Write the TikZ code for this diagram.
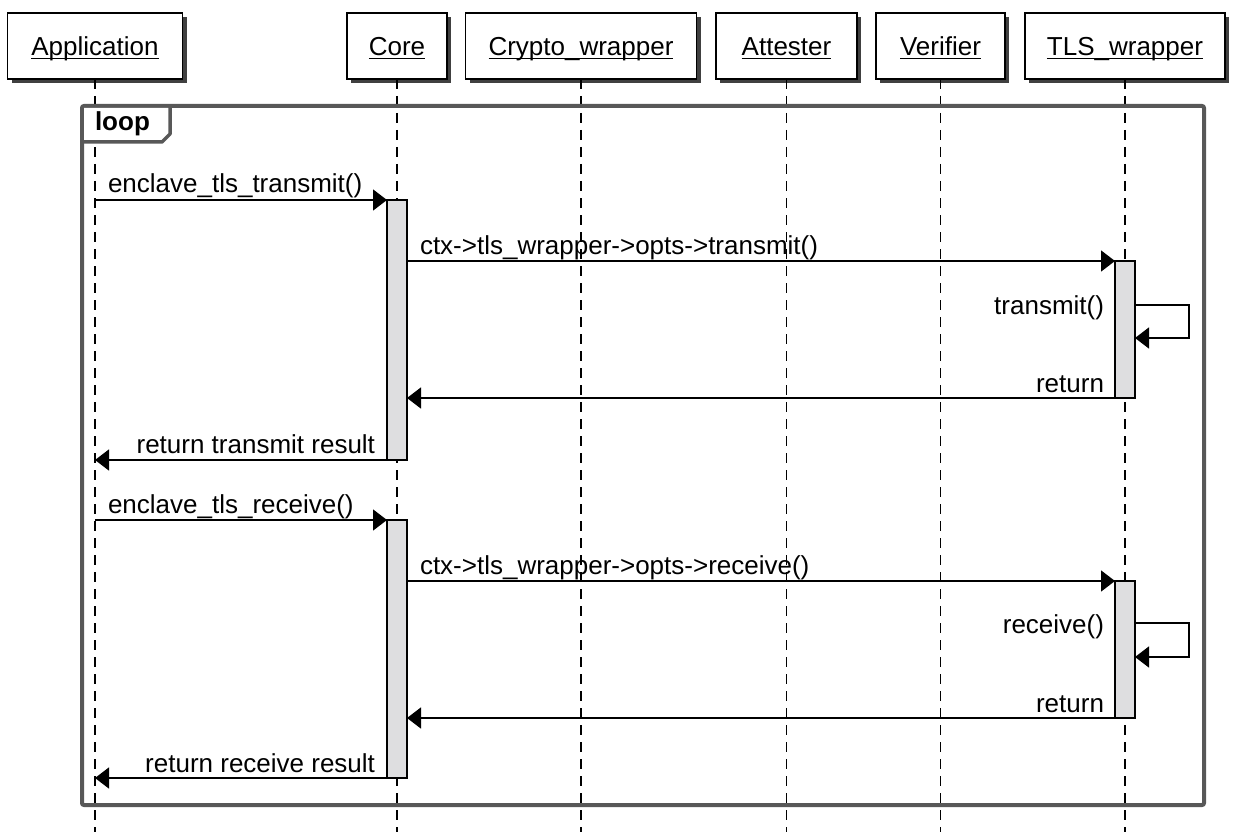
\documentclass[tikz,border=0pt]{standalone}
\usepackage{fontspec}
\setmainfont{Liberation Sans}
\usetikzlibrary{arrows.meta,shadows}
\definecolor{framegray}{RGB}{88,88,88}
\definecolor{actgray}{RGB}{222,222,224}
\begin{document}
\begin{tikzpicture}[x=1pt,y=-1pt,
  every node/.style={inner sep=0pt, outer sep=0pt, font=\fontsize{26}{31}\selectfont},
  head/.style={draw=black, line width=1.5pt, fill=white, minimum height=66pt,
    drop shadow={shadow xshift=4pt, shadow yshift=-4pt, fill=black!75, opacity=1}},
  life/.style={line width=1.4pt, dash pattern=on 10pt off 7pt},
  act/.style={draw=black, line width=1.5pt, fill=actgray, minimum width=20pt, anchor=north},
  msg/.style={line width=1.5pt, -{Triangle[length=14pt,width=21pt]}},
  lbl/.style={anchor=base west},
  rlbl/.style={anchor=base east},
  htext/.style={anchor=base},
  uline/.style={line width=1.3pt},
  frame/.style={draw=framegray, line width=4pt, rounded corners=2pt},
]
\useasboundingbox (0,0) rectangle (1256,832);

% participant boxes
\node[head, minimum width=175pt] (app) at (95,46) {};
\node[head, minimum width=100pt] (core) at (397,46) {};
\node[head, minimum width=231pt] (cry) at (581,46) {};
\node[head, minimum width=141pt] (att) at (786.5,46) {};
\node[head, minimum width=129pt] (ver) at (940.5,46) {};
\node[head, minimum width=200pt] (tls) at (1125,46) {};

\foreach \n/\t in {app/Application, core/Core, cry/Crypto\_wrapper, att/Attester, ver/Verifier, tls/TLS\_wrapper}{
  \node[htext] (\n t) at ([yshift=-10pt]\n.center) {\t};
  \draw[uline] ([yshift=-2.5pt]\n t.base west) -- ([yshift=-2.5pt]\n t.base east);
}

% lifelines
\foreach \n/\x in {app/95, core/397, cry/581, att/786.5, ver/940.5, tls/1125}{
  \coordinate (\n end) at (\x,832);
  \draw[life] (\n.south) -- (\n end);
}

% loop frame
\draw[frame] (82,106) rectangle (1204,805);
\fill[white] (84,108) -- (170,108) -- (170,134) -- (162,142) -- (84,142) -- cycle;
\draw[draw=framegray, line width=3.5pt, line join=round] (170,106) -- (170,134) -- (162,142) -- (82,142);
\node[anchor=base west, font=\bfseries\fontsize{26}{31}\selectfont] (loopt) at (95,131) {loop};

% activations
\node[act, minimum height=260pt] (ac1) at (397,200) {};
\node[act, minimum height=137pt] (at1) at (1125,261) {};
\node[act, minimum height=258pt] (ac2) at (397,520) {};
\node[act, minimum height=137pt] (at2) at (1125,581) {};

% first exchange
\coordinate (m1s) at (95,200);
\draw[msg] (m1s) -- (ac1.north west);
\draw[msg] (ac1.east |- at1.north) -- (at1.north west);
\draw[msg] ([yshift=-44pt]at1.north east) -- ++(54,0) -- ++(0,33) -- ([yshift=-77pt]at1.north east);
\draw[msg] (at1.south west) -- (ac1.east |- at1.south);
\coordinate (r1e) at (95,460);
\draw[msg] (ac1.south west) -- (r1e);

% second exchange
\coordinate (m3s) at (95,520);
\draw[msg] (m3s) -- (ac2.north west);
\draw[msg] (ac2.east |- at2.north) -- (at2.north west);
\draw[msg] ([yshift=-42pt]at2.north east) -- ++(54,0) -- ++(0,34) -- ([yshift=-76pt]at2.north east);
\draw[msg] (at2.south west) -- (ac2.east |- at2.south);
\coordinate (r2e) at (95,778);
\draw[msg] (ac2.south west) -- (r2e);

% labels
\node[lbl] (l1) at (108,193) {enclave\_tls\_transmit()};
\node[lbl] (l2) at (420,254) {ctx->tls\_wrapper->opts->transmit()};
\node[rlbl] (l3) at (1104,314) {transmit()};
\node[rlbl] (l4) at (1104,392) {return};
\node[rlbl] (l5) at (375,453) {return transmit result};
\node[lbl] (l6) at (108,513) {enclave\_tls\_receive()};
\node[lbl] (l7) at (420,574) {ctx->tls\_wrapper->opts->receive()};
\node[rlbl] (l8) at (1104,633) {receive()};
\node[rlbl] (l9) at (1104,712) {return};
\node[rlbl] (l10) at (375,772) {return receive result};
\end{tikzpicture}
\end{document}
